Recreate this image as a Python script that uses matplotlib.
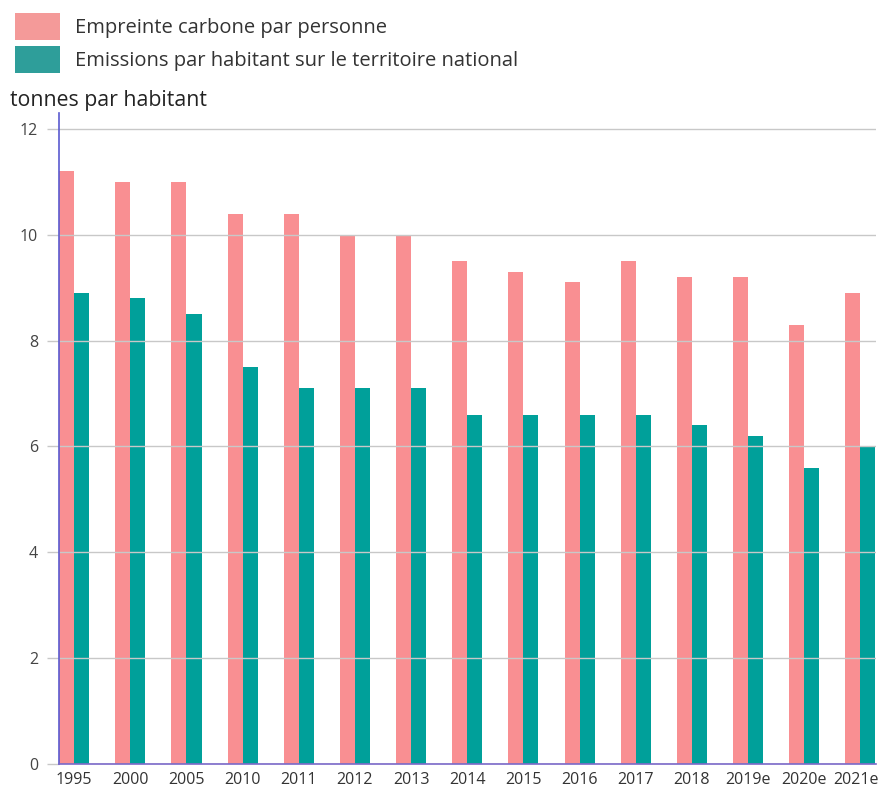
import numpy as np
import matplotlib
matplotlib.use("Agg")
import matplotlib.pyplot as plt
import matplotlib.transforms as mtransforms
from matplotlib.patches import Patch

plt.rcParams['font.family'] = ['Open Sans', 'DejaVu Sans']

years = ["1995", "2000", "2005", "2010", "2011", "2012", "2013", "2014",
         "2015", "2016", "2017", "2018", "2019e", "2020e", "2021e"]
empreinte = [11.2, 11.0, 11.0, 10.4, 10.4, 10.0, 10.0, 9.5,
             9.3, 9.1, 9.5, 9.2, 9.2, 8.3, 8.9]
emissions = [8.9, 8.8, 8.5, 7.5, 7.1, 7.1, 7.1, 6.6,
             6.6, 6.6, 6.6, 6.4, 6.2, 5.6, 6.0]
series_labels = ["Empreinte carbone par personne",
                 "Emissions par habitant sur le territoire national"]
yticks = [0, 2, 4, 6, 8, 10, 12]

pink = "#F98F92"
teal = "#00A09A"

fig = plt.figure(figsize=(8.82, 7.91), dpi=100)
ax = fig.add_axes([0.0669, 0.0341, 0.9263, 0.8230])

x = np.arange(len(years))
w = 0.268
ax.bar(x - w / 2, empreinte, width=w, color=pink, zorder=2)
ax.bar(x + w / 2, emissions, width=w, color=teal, zorder=2)

ax.set_xlim(-2 * w / 2 - 0.002, len(years) - 1 + w + 0.01)
ax.set_ylim(0, 12.3)
ax.set_yticks(yticks)
ax.set_yticklabels([str(t) for t in yticks])
ax.set_xticks(x)
ax.set_xticklabels(years)

ax.grid(axis='y', color='#c8c8c8', linewidth=1.0, zorder=3)
ax.set_axisbelow(False)
for s in ['top', 'right']:
    ax.spines[s].set_visible(False)
ax.spines['left'].set_color('#5a5ad0')
ax.spines['left'].set_linewidth(1.2)
ax.spines['left'].set_zorder(4)
ax.spines['bottom'].set_color('#7a68c8')
ax.spines['bottom'].set_linewidth(1.2)
ax.spines['bottom'].set_zorder(4)

ax.tick_params(axis='y', length=9, width=1, color='#c8c8c8', pad=6,
               labelsize=11.5, labelcolor='#444444')
ax.tick_params(axis='x', length=0, pad=6, labelsize=11.5, labelcolor='#333333')
# nudge the last year label a few pixels left so it stays on the canvas
last = ax.get_xticklabels()[-1]
last.set_transform(last.get_transform() +
                   mtransforms.ScaledTranslation(-4 / 100, 0, fig.dpi_scale_trans))

fig.text(0.011, 0.866, "tonnes par habitant", fontsize=15.3, color='#222222',
         ha='left', va='baseline')

handles = [Patch(facecolor="#F49A99", edgecolor='none'),
           Patch(facecolor="#2E9E9A", edgecolor='none')]
fig.legend(handles, series_labels, loc='upper left',
           bbox_to_anchor=(0.017, 0.984), frameon=False, fontsize=14.5,
           handlelength=2.24, handleheight=1.7, handletextpad=0.72,
           labelspacing=0.3, borderaxespad=0, borderpad=0,
           labelcolor='#333333')

fig.savefig("out.png", dpi=100)
